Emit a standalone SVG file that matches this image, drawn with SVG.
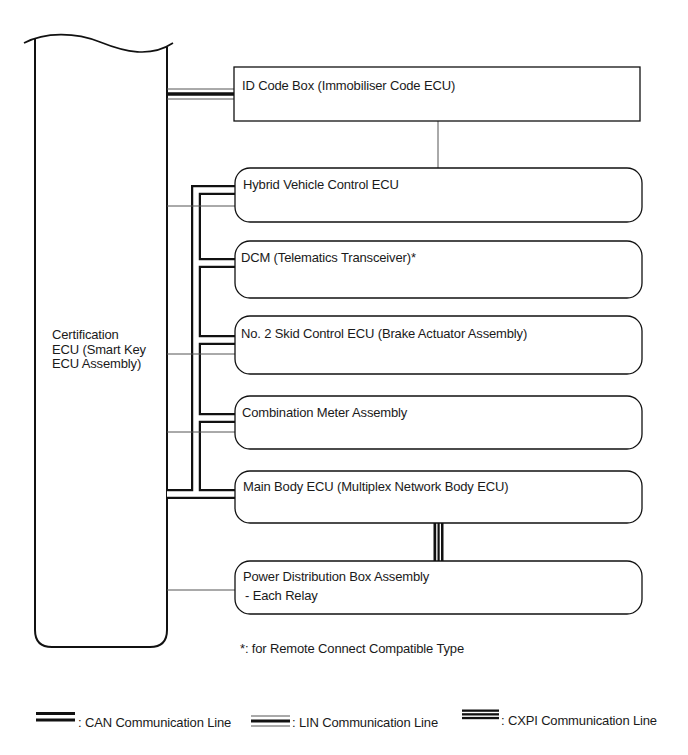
<svg xmlns="http://www.w3.org/2000/svg" width="688" height="755" viewBox="0 0 688 755">
<style>
text{font-family:"Liberation Sans",Arial,sans-serif;font-size:13px;letter-spacing:-0.15px;fill:#1a1a1a}
.box{fill:#fff;stroke:#111;stroke-width:1.3}
.thin{stroke:#555;stroke-width:1;fill:none}
.canO{stroke:#111;stroke-width:10;fill:none;stroke-linejoin:miter}
.canI{stroke:#fff;stroke-width:5.5;fill:none;stroke-linejoin:miter}
.canG{stroke:#aaa;stroke-width:0.6;fill:none}
</style>
<rect width="688" height="755" fill="#fff"/>
<g id="cert">
<path d="M35,38 L35,630 Q35,647 52,647 L150,647 Q167,647 167,630 L167,47" fill="#fff" stroke="#111" stroke-width="2"/>
<path d="M24,43 C45,32 75,32 100,42 C125,52 150,58 173,43" fill="none" stroke="#111" stroke-width="1.6"/>
<text x="52" y="339">Certification</text>
<text x="52" y="354">ECU (Smart Key</text>
<text x="52" y="368">ECU Assembly)</text>
</g>
<g id="connectors">
<line class="thin" x1="438" y1="121" x2="438" y2="168"/>
<line class="thin" x1="167" y1="89" x2="235" y2="89"/>
<line x1="167" y1="94" x2="235" y2="94" stroke="#111" stroke-width="3.5"/>
<line class="thin" x1="167" y1="99" x2="235" y2="99"/>
<path class="canO" d="M235,190 H196 V494 M196,263 H235 M196,340 H235 M196,418 H235 M167,494 H235"/>
<path class="canI" d="M235,190 H196 V494 M196,263 H235 M196,340 H235 M196,418 H235 M167,494 H235"/>
<line class="thin" x1="167" y1="206" x2="235" y2="206"/>
<line class="thin" x1="167" y1="354" x2="235" y2="354"/>
<line class="thin" x1="167" y1="432" x2="235" y2="432"/>
<line class="thin" x1="167" y1="590" x2="235" y2="590"/>
<rect x="433.5" y="523" width="10" height="38" fill="#111"/>
<rect x="436.2" y="523" width="1.3" height="38" fill="#fff"/>
<rect x="439.7" y="523" width="1.3" height="38" fill="#fff"/>
</g>
<g id="idbox"><rect class="box" x="234" y="67" width="406" height="54"/><text x="242" y="90">ID Code Box (Immobiliser Code ECU)</text></g>
<g id="hybrid"><rect class="box" x="235" y="168" width="407" height="54" rx="15"/><text x="243" y="189">Hybrid Vehicle Control ECU</text></g>
<g id="dcm"><rect class="box" x="235" y="241" width="407" height="57" rx="15"/><text x="241" y="262">DCM (Telematics Transceiver)*</text></g>
<g id="skid"><rect class="box" x="235" y="316" width="407" height="58" rx="15"/><text x="241" y="338">No. 2 Skid Control ECU (Brake Actuator Assembly)</text></g>
<g id="meter"><rect class="box" x="235" y="396" width="407" height="53" rx="15"/><text x="242" y="417">Combination Meter Assembly</text></g>
<g id="mainbody"><rect class="box" x="235" y="471" width="407" height="52" rx="15"/><text x="243" y="491">Main Body ECU (Multiplex Network Body ECU)</text></g>
<g id="power"><rect class="box" x="235" y="561" width="407" height="53" rx="15"/><text x="243" y="581">Power Distribution Box Assembly</text><text x="245" y="600">- Each Relay</text></g>
<text x="240" y="653">*: for Remote Connect Compatible Type</text>
<g id="legend">
<rect x="36" y="712" width="39" height="3" fill="#111"/>
<rect x="36" y="718.5" width="39" height="3" fill="#111"/>
<text x="78" y="727">: CAN Communication Line</text>
<line x1="251" y1="716" x2="290" y2="716" stroke="#555" stroke-width="1"/>
<rect x="251" y="719.5" width="39" height="3" fill="#111"/>
<line x1="251" y1="726" x2="290" y2="726" stroke="#555" stroke-width="1"/>
<text x="292" y="727">: LIN Communication Line</text>
<rect x="462" y="709.5" width="37" height="2.3" fill="#111"/>
<rect x="462" y="713.2" width="37" height="2.3" fill="#111"/>
<rect x="462" y="716.9" width="37" height="2.3" fill="#111"/>
<text x="501" y="725">: CXPI Communication Line</text>
</g>
</svg>
